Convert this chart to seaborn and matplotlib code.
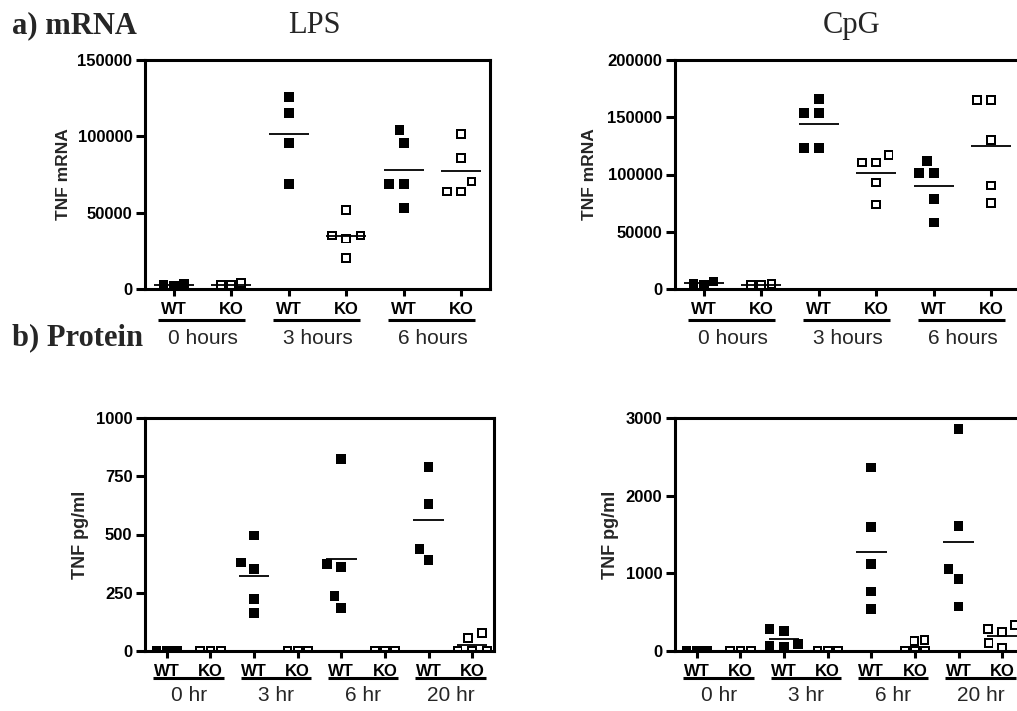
import numpy as np
import pandas as pd
import matplotlib
matplotlib.use("Agg")
import matplotlib.pyplot as plt
import matplotlib.transforms as mtransforms
from matplotlib.path import Path
import seaborn as sns

# ---- data ----
genotypes = ["WT", "KO"]
mrna_times = ["0 hours", "3 hours", "6 hours"]
protein_times = ["0 hr", "3 hr", "6 hr", "20 hr"]

lps_mrna_wt = [[3500, 2500, 2000], [126000, 115100, 95500, 68700], [104200, 95500, 68700, 68700, 53000]]
lps_mrna_ko = [[3800, 2500, 2500], [51900, 35000, 33000, 35000, 20300], [101400, 85700, 70400, 63900, 63900]]
cpg_mrna_wt = [[6500, 4500, 4000], [165700, 153500, 153500, 123000, 123000], [111900, 101200, 101200, 78800, 58100]]
cpg_mrna_ko = [[4200, 3500, 3500], [116900, 110500, 110500, 93000, 73800], [165100, 165100, 130200, 90400, 75000]]

lps_prot_wt = [[0, 0, 0], [496, 380, 352, 222, 162], [824, 374, 360, 236, 183], [789, 630, 438, 391]]
lps_prot_ko = [[0, 0, 0], [0, 0, 0], [0, 0, 0], [76, 57, 0, 0, 0]]
cpg_prot_wt = [[0, 0, 0], [280, 262, 90, 70, 50], [2364, 1595, 1117, 765, 537], [2858, 1612, 1057, 928, 572]]
cpg_prot_ko = [[0, 0, 0], [0, 0, 0], [140, 125, 5, 5, 0], [335, 279, 249, 99, 34]]

mrna_ticks_lps = [0, 50000, 100000, 150000]
mrna_ticks_cpg = [0, 50000, 100000, 150000, 200000]
prot_ticks_lps = [0, 250, 500, 750, 1000]
prot_ticks_cpg = [0, 1000, 2000, 3000]

sns.set_style("ticks")
plt.rcParams['font.family'] = ['Liberation Sans', 'DejaVu Sans']

W, H = 1017, 711
fig = plt.figure(figsize=(W / 100, H / 100), dpi=100)


def box(left, top, right, bottom):
    return [left / W, 1 - bottom / H, (right - left) / W, (bottom - top) / H]


# open square drawn as a hollow path so the mean line shows through
outer = [(-1, -1), (1, -1), (1, 1), (-1, 1), (-1, -1)]
inner = [(-0.6, -0.6), (-0.6, 0.6), (0.6, 0.6), (0.6, -0.6), (-0.6, -0.6)]
codes = [Path.MOVETO, Path.LINETO, Path.LINETO, Path.LINETO, Path.CLOSEPOLY] * 2
hollow_square = Path(outer + inner, codes)


def draw_panel(ax, times, wt_vals, ko_vals, yticks, ylabel, ylab_fs, ylab_x,
               line_y, text_y, lx0, lx1):
    order = [f"{t} {g}" for t in times for g in genotypes]
    rows = []
    for t, wv, kv in zip(times, wt_vals, ko_vals):
        rows += [(f"{t} WT", "WT", v) for v in wv]
        rows += [(f"{t} KO", "KO", v) for v in kv]
    df = pd.DataFrame(rows, columns=["group", "genotype", "value"])

    # invisible edge width widens the swarm spacing a bit (gap between squares)
    sns.swarmplot(data=df[df.genotype == "WT"], x="group", y="value", order=order, ax=ax,
                  marker="s", color="black", edgecolor="none", linewidth=3, size=7,
                  warn_thresh=1)
    sns.swarmplot(data=df[df.genotype == "KO"], x="group", y="value", order=order, ax=ax,
                  marker=hollow_square, color="black", edgecolor="none", linewidth=3, size=7,
                  warn_thresh=1)
    # groups sitting on the baseline are packed tight, like the original
    for coll in ax.collections:
        offs = np.asarray(coll.get_offsets())
        if len(offs) > 1 and offs[:, 1].max() < 0.05 * yticks[-1]:
            coll.set_linewidth(0)

    means = df.groupby("group")["value"].mean().reindex(order)
    pos = np.arange(len(order))
    ax.hlines(means.values, pos - 0.35, pos + 0.35, color="black", lw=1.3, zorder=4)

    ax.set_xlim(-0.5, len(order) - 0.5)
    ax.set_ylim(yticks[0], yticks[-1])
    ax.set_xticks(pos)
    ax.set_xticklabels(genotypes * len(times), fontweight="bold", fontsize=12)
    ax.set_yticks(yticks)
    ax.set_yticklabels([str(v) for v in yticks], fontweight="bold", fontsize=12)
    ax.tick_params(axis="x", length=5, width=2.2, pad=4, colors="black")
    ax.tick_params(axis="y", length=6.5, width=2.2, pad=2.5, colors="black")
    for sp in ax.spines.values():
        sp.set_visible(True)
        sp.set_linewidth(2.2)
        sp.set_color("black")
    ax.set_xlabel("")
    ax.set_ylabel(ylabel, fontsize=ylab_fs, fontweight="bold")
    ax.yaxis.set_label_coords(ylab_x, 0.5)

    trans = mtransforms.blended_transform_factory(ax.transData, ax.transAxes)
    for i, t in enumerate(times):
        ax.plot([2 * i - lx0, 2 * i + 1 + lx1], [line_y, line_y], transform=trans,
                color="black", lw=2.2, clip_on=False, solid_capstyle="butt")
        ax.text(2 * i + 0.5, text_y, t, transform=trans, ha="center", va="center",
                fontsize=15, clip_on=False)


ax1 = fig.add_axes(box(145, 60, 490, 289))
ax2 = fig.add_axes(box(675, 60, 1020, 289))
ax3 = fig.add_axes(box(145, 418, 494, 651))
ax4 = fig.add_axes(box(675, 418, 1024, 651))

draw_panel(ax1, mrna_times, lps_mrna_wt, lps_mrna_ko, mrna_ticks_lps, "TNF mRNA", 12.5, -0.215,
           -0.135, -0.214, 0.28, 0.24)
draw_panel(ax2, mrna_times, cpg_mrna_wt, cpg_mrna_ko, mrna_ticks_cpg, "TNF mRNA", 12.5, -0.225,
           -0.135, -0.214, 0.28, 0.24)
draw_panel(ax3, protein_times, lps_prot_wt, lps_prot_ko, prot_ticks_lps, "TNF pg/ml", 13, -0.16,
           -0.116, -0.193, 0.31, 0.31)
draw_panel(ax4, protein_times, cpg_prot_wt, cpg_prot_ko, prot_ticks_cpg, "TNF pg/ml", 13, -0.16,
           -0.116, -0.193, 0.31, 0.31)

serif = ["Liberation Serif", "DejaVu Serif"]
fig.text(12 / W, 1 - 33 / H, "a) mRNA", family=serif, fontsize=22, fontweight="bold",
         ha="left", va="baseline")
fig.text(314 / W, 1 - 33 / H, "LPS", family=serif, fontsize=22, ha="center", va="baseline")
fig.text(852 / W, 1 - 33 / H, "CpG", family=serif, fontsize=22, ha="center", va="baseline")
fig.text(12 / W, 1 - 345 / H, "b) Protein", family=serif, fontsize=22, fontweight="bold",
         ha="left", va="baseline")

fig.savefig("out.png", dpi=100)
